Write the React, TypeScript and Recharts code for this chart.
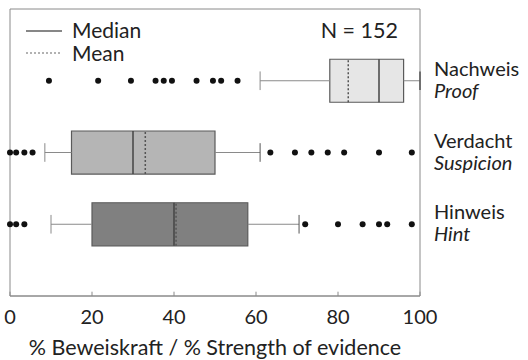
import React from 'react';
import { ComposedChart, XAxis, YAxis, Scatter, ReferenceArea, ReferenceLine } from 'recharts';

// rows from top to bottom
const rowsDe = ['Nachweis', 'Verdacht', 'Hinweis'];
const rowsEn = ['Proof', 'Suspicion', 'Hint'];
const rowPos = [3, 2, 1];
const boxFill = ['#e6e6e6', '#b5b5b5', '#808080'];

const whiskerLow = [61, 8.5, 10];
const q1 = [78, 15, 20];
const median = [90, 30, 40];
const mean = [82.5, 33, 40.5];
const q3 = [96, 50, 58];
const whiskerHigh = [100, 61, 70.5];

const outliersProof = [9.5, 21.5, 29.5, 35.5, 37.5, 39.5, 45.5, 49.5, 51.5, 55.5];
const outliersSuspicion = [0, 1.5, 3.5, 5.5, 63.5, 69.5, 73.5, 77.5, 81.5, 90, 98];
const outliersHint = [0, 1.5, 3.5, 72, 80, 86, 90, 92, 98];

const xTicks = [0, 20, 40, 60, 80, 100];
const sampleSize = 152;

const FONT = 'Lato, "Open Sans", sans-serif';
const TEXT = '#222';
const BOX_HALF = 0.3;
const CAP_HALF = 0.13;

const outlierData = [
  ...outliersProof.map((x) => ({ x, y: rowPos[0] })),
  ...outliersSuspicion.map((x) => ({ x, y: rowPos[1] })),
  ...outliersHint.map((x) => ({ x, y: rowPos[2] })),
];

const RightTick = (props: any) => {
  const { x, y, payload } = props;
  const i = rowPos.indexOf(payload.value);
  if (i < 0) return null;
  return (
    <g>
      <text x={x + 6} y={y - 5} fontSize={20} fill={TEXT} fontFamily={FONT}>
        {rowsDe[i]}
      </text>
      <text x={x + 6} y={y + 17} fontSize={20} fill={TEXT} fontFamily={FONT} fontStyle="italic">
        {rowsEn[i]}
      </text>
    </g>
  );
};

export default function App() {
  return (
    <div style={{ position: 'absolute', left: 0, top: 0, width: 528, height: 360, background: '#fff' }}>
      <ComposedChart width={528} height={360} margin={{ top: 9, right: 0, bottom: 0, left: 10 }}>
        <XAxis
          xAxisId="x"
          type="number"
          dataKey="x"
          domain={[0, 100]}
          ticks={xTicks}
          height={64}
          tickLine={false}
          tickMargin={8}
          axisLine={{ stroke: '#8a8a8a' }}
          tick={{ fontSize: 20, fill: TEXT, fontFamily: FONT }}
          label={{
            value: '% Beweiskraft / % Strength of evidence',
            position: 'insideBottom',
            offset: 5,
            fontSize: 21.5,
            fill: TEXT,
            fontFamily: FONT,
          }}
        />
        <YAxis
          yAxisId="y"
          orientation="right"
          type="number"
          dataKey="y"
          domain={[0, 4]}
          ticks={rowPos}
          width={108}
          axisLine={false}
          tickLine={false}
          tick={<RightTick />}
        />

        <ReferenceArea xAxisId="x" yAxisId="y" x1={0} x2={100} y1={0} y2={4} fill="none" stroke="#8a8a8a" />
        {xTicks.map((t) => (
          <ReferenceLine
            key={'tick' + t}
            xAxisId="x"
            yAxisId="y"
            segment={[{ x: t, y: 0 }, { x: t, y: 0.06 }]}
            stroke="#8a8a8a"
          />
        ))}

        {rowPos.map((r, i) => (
          <ReferenceLine
            key={'wl' + i}
            xAxisId="x"
            yAxisId="y"
            segment={[{ x: whiskerLow[i], y: r }, { x: q1[i], y: r }]}
            stroke="#8a8a8a"
          />
        ))}
        {rowPos.map((r, i) => (
          <ReferenceLine
            key={'wh' + i}
            xAxisId="x"
            yAxisId="y"
            segment={[{ x: q3[i], y: r }, { x: whiskerHigh[i], y: r }]}
            stroke="#8a8a8a"
          />
        ))}
        {rowPos.map((r, i) => (
          <ReferenceLine
            key={'cl' + i}
            xAxisId="x"
            yAxisId="y"
            segment={[{ x: whiskerLow[i], y: r - CAP_HALF }, { x: whiskerLow[i], y: r + CAP_HALF }]}
            stroke="#8a8a8a"
          />
        ))}
        {rowPos.map((r, i) => (
          <ReferenceLine
            key={'ch' + i}
            xAxisId="x"
            yAxisId="y"
            segment={[{ x: whiskerHigh[i], y: r - CAP_HALF }, { x: whiskerHigh[i], y: r + CAP_HALF }]}
            stroke="#555"
            strokeWidth={i === 0 ? 1.5 : 1}
          />
        ))}

        {rowPos.map((r, i) => (
          <ReferenceArea
            key={'box' + i}
            xAxisId="x"
            yAxisId="y"
            x1={q1[i]}
            x2={q3[i]}
            y1={r - BOX_HALF}
            y2={r + BOX_HALF}
            fill={boxFill[i]}
            fillOpacity={1}
            stroke="#5a5a5a"
            strokeWidth={1.2}
          />
        ))}
        {rowPos.map((r, i) => (
          <ReferenceLine
            key={'med' + i}
            xAxisId="x"
            yAxisId="y"
            segment={[{ x: median[i], y: r - BOX_HALF }, { x: median[i], y: r + BOX_HALF }]}
            stroke="#444"
            strokeWidth={1.5}
          />
        ))}
        {rowPos.map((r, i) => (
          <ReferenceLine
            key={'mean' + i}
            xAxisId="x"
            yAxisId="y"
            segment={[{ x: mean[i], y: r - BOX_HALF }, { x: mean[i], y: r + BOX_HALF }]}
            stroke="#555"
            strokeWidth={1.5}
            strokeDasharray="2 2"
          />
        ))}

        <Scatter
          xAxisId="x"
          yAxisId="y"
          data={outlierData}
          isAnimationActive={false}
          shape={(p: any) => <circle cx={p.cx} cy={p.cy} r={3} fill="#111" />}
        />
      </ComposedChart>

      <svg width={528} height={70} style={{ position: 'absolute', left: 0, top: 0 }}>
        <line x1={26} x2={62} y1={31} y2={31} stroke="#111" strokeWidth={1.2} />
        <line x1={26} x2={62} y1={53} y2={53} stroke="#666" strokeWidth={1.2} strokeDasharray="2 2" />
        <text x={72} y={38} fontSize={21} fill={TEXT} fontFamily={FONT}>Median</text>
        <text x={72} y={61} fontSize={21} fill={TEXT} fontFamily={FONT}>Mean</text>
        <text x={398} y={38} fontSize={21.5} fill={TEXT} fontFamily={FONT} textAnchor="end">
          {'N = ' + sampleSize}
        </text>
      </svg>
    </div>
  );
}
